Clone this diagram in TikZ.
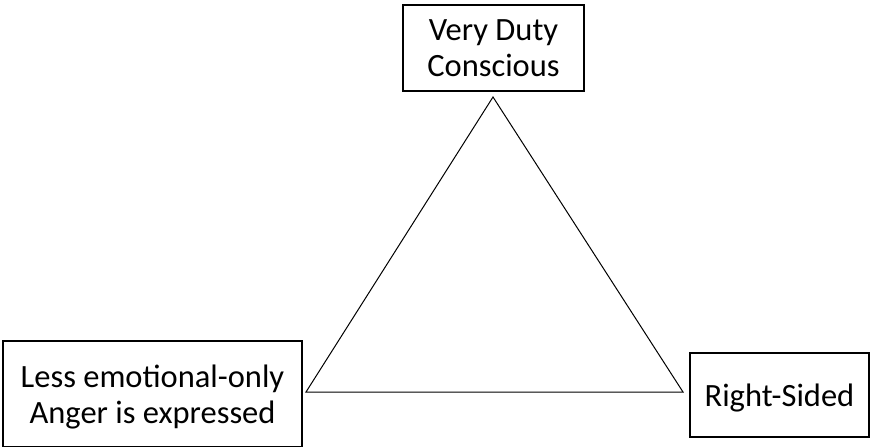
\documentclass[tikz,border=0pt]{standalone}
\usepackage{fontspec}
\setmainfont{Carlito}
\usepackage{tikz}
\usetikzlibrary{positioning}
\tikzset{trait/.style={%
        rectangle,
        draw=black,
        line width=1.5pt,
        align=center,
        inner sep=0pt,
        text depth=0pt,
        font=\fontsize{32.5}{36}\selectfont
    }}

\begin{document}
\begin{tikzpicture}[x=1pt,y=-1pt]
    \useasboundingbox (0,0) rectangle (870,447);
    \node [trait, minimum width=181pt, minimum height=86pt] (V) at (493.5,48) {Very Duty\\Conscious};
    \node [trait, minimum width=299pt, minimum height=106pt] (L) at (152.5,394) {Less emotional-only\\Anger is expressed};
    \node [trait, minimum width=179pt, minimum height=84pt] (R) at (779.5,395) {Right-Sided};
    \coordinate (top) at (493,97);
    \coordinate (left) at (306,392);
    \coordinate (right) at (683,392);
    \draw[line width=1pt] (top) -- (left) -- (right) -- cycle;
\end{tikzpicture}
\end{document}
